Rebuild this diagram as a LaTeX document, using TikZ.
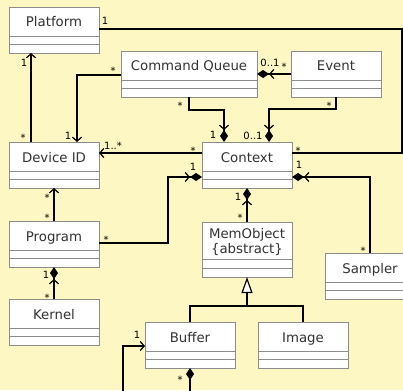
\documentclass[tikz,border=0pt]{standalone}
\usepackage{fontspec}
\setmainfont{DejaVu Sans}
\usetikzlibrary{arrows.meta,shadows,calc}
\definecolor{bg}{RGB}{253,247,195}
\definecolor{txt}{RGB}{50,50,50}
\definecolor{bord}{RGB}{140,140,140}
\tikzset{
 cls/.style={draw=bord, line width=0.9pt, fill=white, anchor=north, minimum width=90pt, minimum height=46pt, inner sep=0pt, outer sep=0pt, drop shadow={shadow xshift=1.2pt, shadow yshift=-1.2pt, opacity=0.25}},
 ttl/.style={anchor=base, text=txt, font=\fontsize{13.3}{15}\selectfont, inner sep=0pt},
 comp/.style={draw=bord, line width=0.8pt},
 conn/.style={draw=black, line width=1.2pt},
 nav/.style={conn, -{Straight Barb[length=4pt,width=9pt]}},
 compo/.style={conn, -{Straight Barb[length=4pt,width=9pt]Diamond[length=12pt,width=8pt]}},
 gen/.style={conn, -{Triangle[length=16pt,width=11pt,fill=white]}},
 ml/.style={anchor=base, font=\fontsize{10}{12}\selectfont, inner sep=0pt, text=black},
}
\newcommand\umlcls[6][90]{%
 \node[cls, minimum width=#1pt] (#2) at (#3,#4) {};
 \node[ttl] (#2t) at ([yshift=-20pt]#2.north) {#5};
 \draw[comp] ([yshift=-29pt]#2.north west) -- ([yshift=-29pt]#2.north east);
 \draw[comp] ([yshift=-37pt]#2.north west) -- ([yshift=-37pt]#2.north east);
}
\begin{document}
\begin{tikzpicture}[x=1pt,y=-1pt]
\useasboundingbox (0,0) rectangle (403,390);
\fill[bg] (0,0) rectangle (403,390);
\clip (0,0) rectangle (403,390);
% classes
\umlcls{plat}{54}{7}{Platform}{}
\umlcls[136]{cq}{189}{51}{Command Queue}{}
\umlcls{event}{336}{51}{Event}{}
\umlcls{dev}{54}{142}{Device ID}{}
\umlcls{ctx}{247}{142}{Context}{}
\umlcls{prog}{54}{221}{Program}{}
\umlcls{kern}{54}{299}{Kernel}{}
\umlcls{samp}{370}{253}{Sampler}{}
\umlcls{img}{303}{322}{Image}{}
\umlcls{buf}{190}{322}{Buffer}{}
\node[cls, minimum height=55pt] (mem) at (247,222) {};
\node[ttl] (memt) at ([yshift=-16pt]mem.north) {MemObject};
\node[ttl] (memt2) at ([yshift=-31pt]mem.north) {\{abstract\}};
\draw[comp] ([yshift=-37pt]mem.north west) -- ([yshift=-37pt]mem.north east);
\draw[comp] ([yshift=-46pt]mem.north west) -- ([yshift=-46pt]mem.north east);
% connectors
\draw[conn] ([yshift=-22pt]plat.north east) -| ([xshift=110pt,yshift=-11pt]ctx.north east) -- ([yshift=-11pt]ctx.north east);
\draw[nav] ([xshift=-23pt]dev.north) -- ([xshift=-23pt]plat.south);
\draw[nav] ([yshift=-24pt]cq.north west) -| ([xshift=23pt]dev.north);
\draw[compo] (cq.south) -- ++(0,13) -| ([xshift=-23pt]ctx.north);
\draw[compo] (event.south) -- ++(0,12) -| ([xshift=22pt]ctx.north);
\draw[compo] ([yshift=-23pt]event.north west) -- ([yshift=-23pt]cq.north east);
\draw[nav] ([yshift=-11pt]ctx.north west) -- ([yshift=-11pt]dev.north east);
\draw[compo] ([yshift=-22pt]prog.north east) -| ([xshift=-34pt,yshift=-35pt]ctx.north west) -- ([yshift=-35pt]ctx.north west);
\draw[nav] (prog.north) -- (dev.south);
\draw[compo] (kern.north) -- (prog.south);
\draw[compo] (mem.north) -- (ctx.south);
\draw[compo] (samp.north) |- ([yshift=-35pt]ctx.north east);
\coordinate (gj) at ([yshift=-29pt]mem.south);
\draw[gen] (gj) -- (mem.south);
\draw[conn] (buf.north) |- (gj) -| (img.north);
\draw[conn, {Diamond[length=12pt,width=8pt]}-{Straight Barb[length=4pt,width=9pt]}] (buf.south) -- ++(0,24) -| ([xshift=-22pt,yshift=-24pt]buf.north west) -- ([yshift=-24pt]buf.north west);
% multiplicities
\node[ml] (l1) at (105,24.6) {1};
\node[ml] (l2) at (298,154) {*};
\node[ml] (l3) at (24,66.6) {1};
\node[ml] (l4) at (23,141) {*};
\node[ml] (l5) at (113,75) {*};
\node[ml] (l6) at (68,139.6) {1};
\node[ml] (l7) at (180,110) {*};
\node[ml] (l8) at (213,138.6) {1};
\node[ml] (l9) at (329,110) {*};
\node[ml] (l10) at (253,139.6) {0..1};
\node[ml] (l11) at (270,66.6) {0..1};
\node[ml] (l12) at (284,71) {*};
\node[ml] (l13) at (113,149.6) {1..*};
\node[ml] (l14) at (193,154) {*};
\node[ml] (l15) at (106,243) {*};
\node[ml] (l16) at (193,170.6) {1};
\node[ml] (l17) at (47,201) {*};
\node[ml] (l18) at (47,221) {*};
\node[ml] (l19) at (46,278.6) {1};
\node[ml] (l20) at (47,301) {*};
\node[ml] (l21) at (238,200.6) {1};
\node[ml] (l22) at (240,221) {*};
\node[ml] (l23) at (299,168.6) {1};
\node[ml] (l24) at (363,254) {*};
\node[ml] (l25) at (137,338.6) {1};
\node[ml] (l26) at (180,383) {*};
\end{tikzpicture}
\end{document}
